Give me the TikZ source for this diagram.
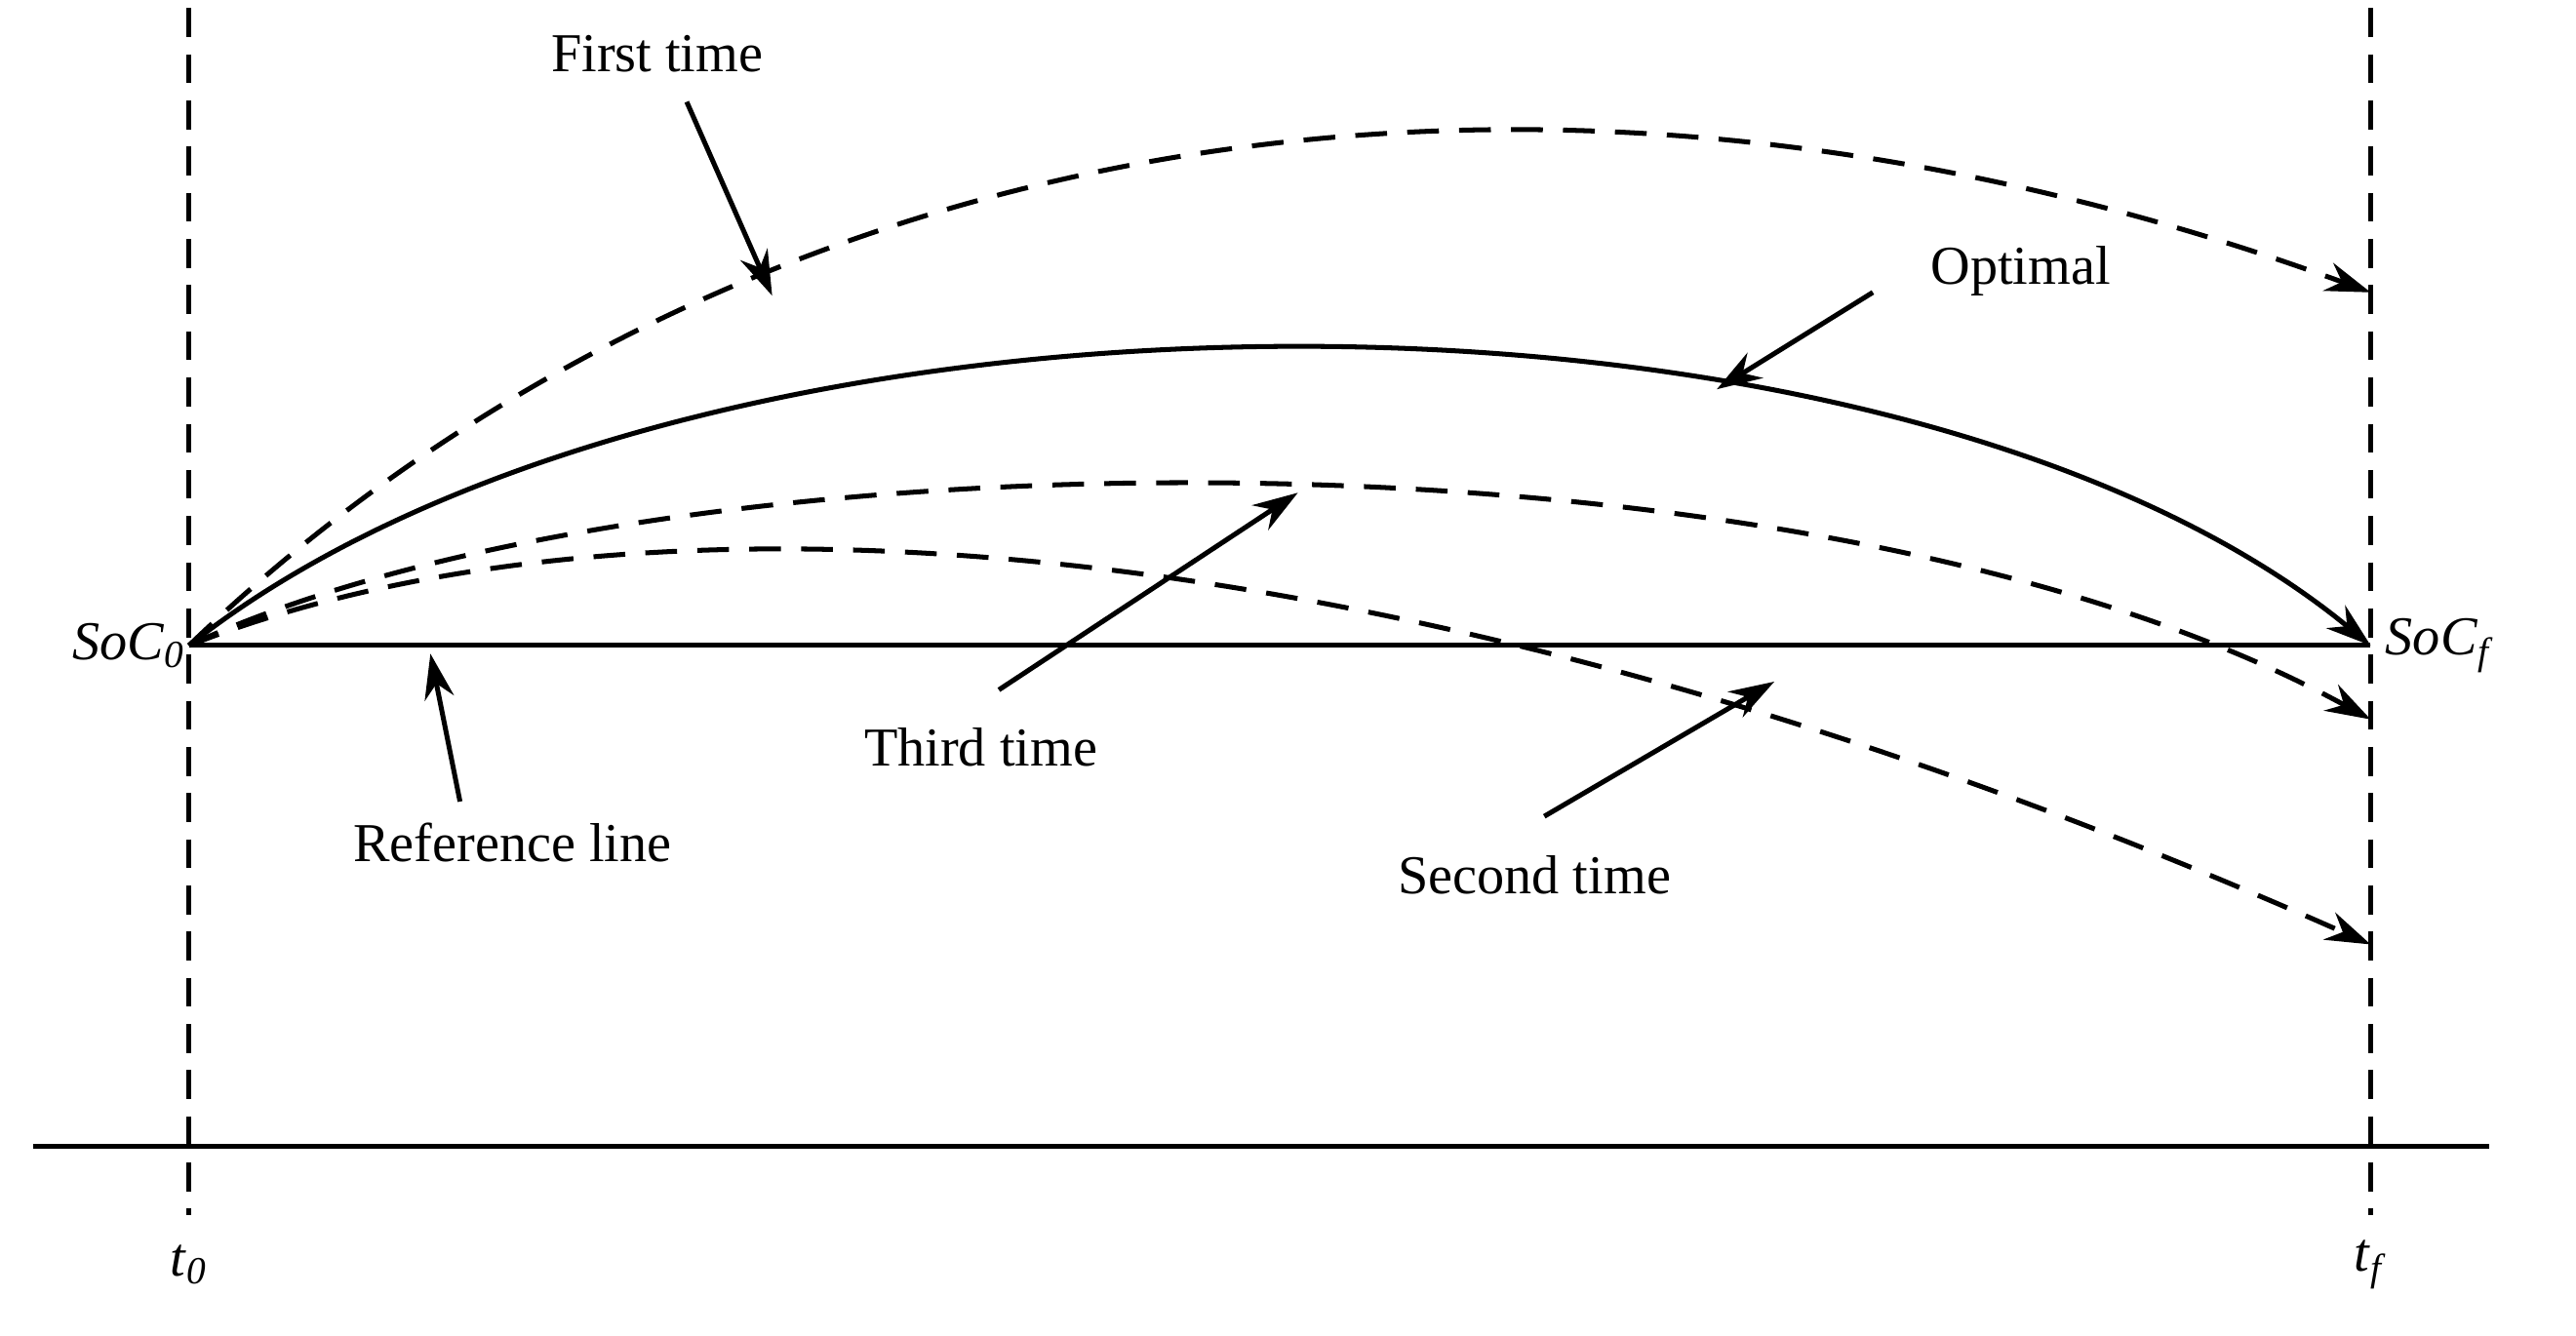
\documentclass[tikz,border=0pt]{standalone}
\usepackage{fontspec}
\setmainfont{Liberation Serif}
\usetikzlibrary{arrows.meta}
\begin{document}
\begin{tikzpicture}[x=0.02cm,y=-0.02cm,
  lw/.style={line width=1.7pt},
  dsh/.style={lw,dash pattern=on 11pt off 7pt},
  arr/.style={lw,-{Stealth[length=0.55cm,width=0.36cm]}},
  lab/.style={font=\fontsize{19}{22}\selectfont,inner sep=1pt}]
\useasboundingbox (0,0) rectangle (1568,813);
% axes
\coordinate (L0) at (115,5); \coordinate (L1) at (115,740);
\coordinate (R0) at (1443,5); \coordinate (R1) at (1443,740);
\draw[lw,dash pattern=on 10pt off 6pt] (L0) -- (L1);
\draw[lw,dash pattern=on 10pt off 6pt] (R0) -- (R1);
\coordinate (B0) at (20,698); \coordinate (B1) at (1515,698);
\draw[lw] (B0) -- (B1);
\coordinate (S) at (115,393); \coordinate (F) at (1443,393);
\draw[lw] (S) -- (F);
\node[lab,anchor=east] (soc0) at (115,393) {\textit{SoC}\textsubscript{\textit{0}}};
\node[lab,anchor=west] (socf) at (1450,393) {\textit{SoC}\textsubscript{\textit{f}}};
\node[lab] (t0) at (115,770) {\textit{t}\textsubscript{\textit{0}}};
\node[lab] (tf) at (1443,770) {\textit{t}\textsubscript{\textit{f}}};
% curves
\coordinate (E1) at (1443,178); \coordinate (E3) at (1443,438); \coordinate (E2) at (1443,575);
\draw[dsh,-{Stealth[length=0.55cm,width=0.36cm]}] (S) .. controls (420,100) and (900,-20) .. (E1);
\draw[lw,-{Stealth[length=0.55cm,width=0.36cm]}] (S) .. controls (420,152) and (1150,152) .. (F);
\draw[dsh,-{Stealth[length=0.55cm,width=0.36cm]}] (S) .. controls (400,260) and (1100,250) .. (E3);
\draw[dsh,-{Stealth[length=0.55cm,width=0.36cm]}] (S) .. controls (350,300) and (800,290) .. (E2);
% labels
\node[lab] (first) at (400,33) {First time};
\coordinate (a1s) at (418,62); \coordinate (a1e) at (470,180);
\draw[arr] (a1s) -- (a1e);
\node[lab] (opt) at (1230,165) {Optimal};
\coordinate (a2s) at (1140,178); \coordinate (a2e) at (1045,237);
\draw[arr] (a2s) -- (a2e);
\node[lab] (third) at (597,455) {Third time};
\coordinate (a3s) at (608,420); \coordinate (a3e) at (790,300);
\draw[arr] (a3s) -- (a3e);
\node[lab] (ref) at (312,513) {Reference line};
\coordinate (a4s) at (280,488); \coordinate (a4e) at (262,398);
\draw[arr] (a4s) -- (a4e);
\node[lab] (second) at (934,533) {Second time};
\coordinate (a5s) at (940,497); \coordinate (a5e) at (1080,415);
\draw[arr] (a5s) -- (a5e);
\end{tikzpicture}
\end{document}
